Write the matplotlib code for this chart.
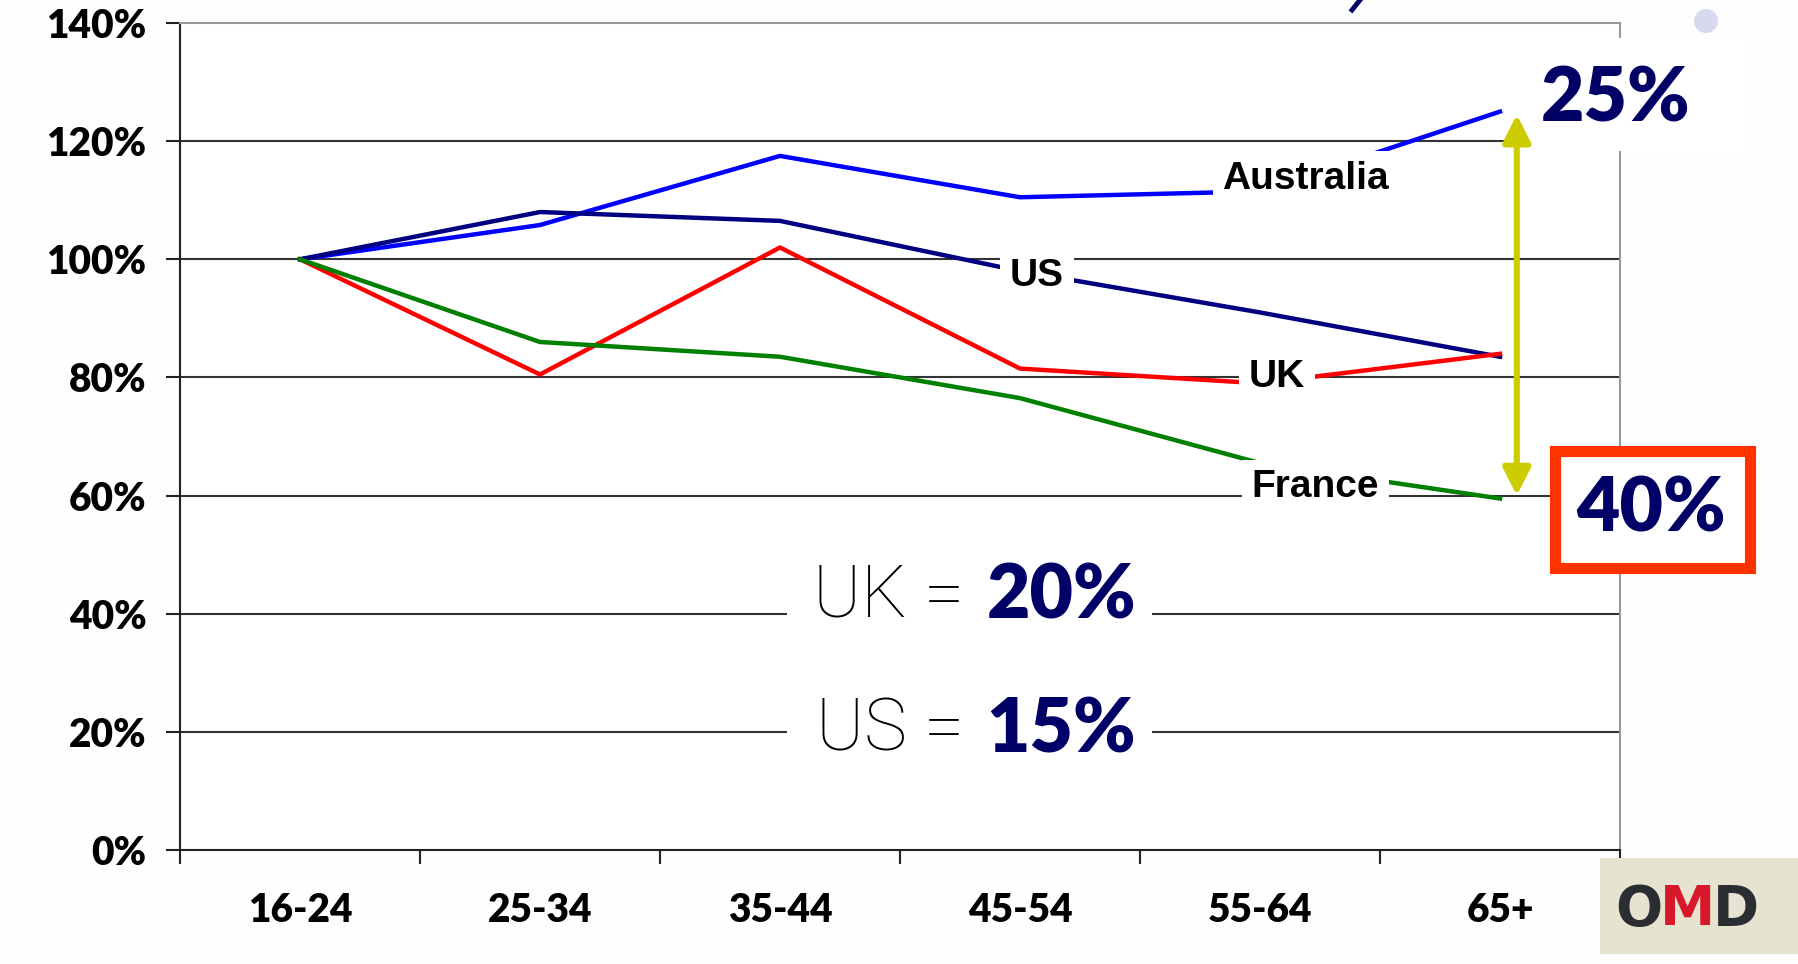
import matplotlib.pyplot as plt
from matplotlib.patches import Rectangle, Circle
from matplotlib.lines import Line2D

# data (index = 100% at 16-24)
age_groups = ['16-24', '25-34', '35-44', '45-54', '55-64', '65+']
australia = [100, 105.8, 117.5, 110.5, 111.5, 125.0]
us = [100, 108.0, 106.5, 98.0, 91.0, 83.5]
uk = [100, 80.5, 102.0, 81.5, 79.0, 84.0]
france = [100, 86.0, 83.5, 76.5, 65.5, 59.5]

y_ticks = [0, 20, 40, 60, 80, 100, 120, 140]
y_tick_labels = ['0%', '20%', '40%', '60%', '80%', '100%', '120%', '140%']

navy = '#000066'
tick_font = 'Lato'
label_font = 'Liberation Sans'

fig = plt.figure(figsize=(17.98, 9.64), dpi=100)
fig.patch.set_facecolor('#FEFEFE')
ax = fig.add_axes([180 / 1798, 1 - 850 / 964, 1440 / 1798, 827 / 964])
ax.set_facecolor('white')

x = list(range(len(age_groups)))

# gridlines
for yv in y_ticks[1:-1]:
    ax.axhline(yv, color='#333333', lw=1.5, zorder=1)

ax.plot(x, australia, color='#0000FF', lw=3.2, zorder=3)
ax.plot(x, us, color='#000080', lw=3.2, zorder=3)
ax.plot(x, uk, color='#FF0000', lw=3.2, zorder=3)
ax.plot(x, france, color='#008000', lw=3.2, zorder=3)

ax.set_xlim(-0.5, 5.5)
ax.set_ylim(0, 140)

# series labels sitting on the lines
lab = dict(fontsize=28, fontweight='bold', family=label_font, ha='center', va='center',
           zorder=5, bbox=dict(fc='white', ec='none', pad=7))
ax.text(4.19, 113.6, 'Australia', **lab)
ax.text(3.07, 97.2, 'US', **lab)
ax.text(4.07, 80.0, 'UK', **lab)
ax.text(4.23, 61.4, 'France', **lab)

# axes styling
for s in ['left', 'bottom']:
    ax.spines[s].set_color('#222222')
    ax.spines[s].set_linewidth(1.5)
for s in ['top', 'right']:
    ax.spines[s].set_color('#999999')
    ax.spines[s].set_linewidth(1.5)

ax.set_yticks(y_ticks)
ax.set_yticklabels(y_tick_labels)
ax.tick_params(axis='y', direction='out', length=10, width=1.5, color='#222222', pad=14,
               labelsize=28)
ax.set_xticks(x)
ax.set_xticklabels(age_groups)
ax.set_xticks([i - 0.5 for i in range(len(age_groups) + 1)], minor=True)
ax.tick_params(axis='x', which='major', length=0, pad=30, labelsize=28)
ax.tick_params(axis='x', which='minor', direction='out', length=10, width=1.5, color='#222222')
for t in ax.get_xticklabels() + ax.get_yticklabels():
    t.set_family(tick_font)
    t.set_fontweight('heavy')

# summary boxes in the middle
ax.add_patch(Rectangle((2.03, 8), 1.52, 44.6, fc='white', ec='none', zorder=2))
ax.text(2.77, 42.9, 'UK =', fontsize=52, family='Roboto', fontweight='light', color='black',
        ha='right', va='center', zorder=4)
ax.text(2.86, 42.9, '20%', fontsize=54, family='Lato', fontweight='heavy', color=navy,
        ha='left', va='center', zorder=4)
ax.text(2.77, 20.2, 'US =', fontsize=52, family='Roboto', fontweight='light', color='black',
        ha='right', va='center', zorder=4)
ax.text(2.86, 20.2, '15%', fontsize=54, family='Lato', fontweight='heavy', color=navy,
        ha='left', va='center', zorder=4)

# gap annotation on the right
ax.add_patch(Rectangle((5.095, 118.4), 0.92, 19.1, fc='white', ec='none', zorder=4,
                       clip_on=False))
ax.text(5.48, 127, '25%', fontsize=54, family=tick_font, fontweight='heavy', color=navy,
        ha='center', va='center', zorder=6, clip_on=False)
ax.add_patch(Rectangle((5.23, 47.8), 0.81, 19.8, fc='white', ec='#FF3300', lw=8, zorder=4,
                       clip_on=False))
ax.text(5.63, 57.6, '40%', fontsize=54, family=tick_font, fontweight='heavy', color=navy,
        ha='center', va='center', zorder=6, clip_on=False)
ax.annotate('', xy=(5.07, 124.5), xytext=(5.07, 60),
            arrowprops=dict(arrowstyle='<|-|>,head_length=0.83,head_width=0.42',
                            color='#CCCC00', lw=4.4, mutation_scale=20, shrinkA=0, shrinkB=0),
            zorder=7, annotation_clip=False)

# slide decorations: OMD logo, dot, bit of title
fig.patches.append(Rectangle((0.890, 0.0104), 0.110, 0.0996, transform=fig.transFigure,
                             fc='#E6E3D0', ec='none', zorder=1))
for letter, xc, col in [('O', 0.9112, '#2A2E33'), ('M', 0.9385, '#D7182A'), ('D', 0.9655, '#2A2E33')]:
    fig.text(xc, 0.056, letter, fontsize=40, family='DejaVu Sans', fontweight='bold', color=col,
             ha='center', va='center', zorder=2)
fig.patches.append(Circle((17.06, 9.64 - 0.21), 0.12, transform=fig.dpi_scale_trans,
                          fc='#D8D8EE', ec='none'))
fig.lines.append(Line2D([1360 / 1798, 1352 / 1798], [1.0, 1 - 10 / 964], transform=fig.transFigure,
                        color=navy, lw=3.5))

fig.savefig('out.png', dpi=100, facecolor=fig.get_facecolor())
